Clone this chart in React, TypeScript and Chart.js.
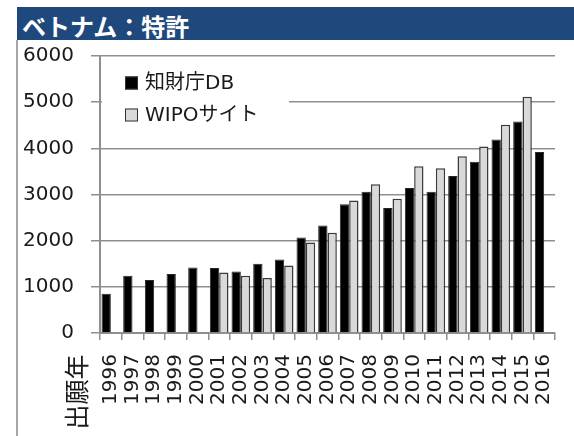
import React, { useEffect, useRef } from "react";
import { Chart, registerables } from "chart.js";

Chart.register(...registerables);

const titleText = "ベトナム：特許";
const axisTitle = "出願年";
const seriesLabels = ["知財庁DB", "WIPOサイト"];
const years = [
  "1996", "1997", "1998", "1999", "2000", "2001", "2002", "2003", "2004", "2005", "2006",
  "2007", "2008", "2009", "2010", "2011", "2012", "2013", "2014", "2015", "2016",
];
const jpoValues = [
  850, 1240, 1150, 1280, 1420, 1410, 1330, 1500, 1590, 2070, 2330,
  2790, 3060, 2710, 3140, 3060, 3400, 3710, 4190, 4580, 3920,
];
const wipoValues = [
  null, null, null, null, null, 1310, 1240, 1190, 1460, 1960, 2170,
  2870, 3220, 2910, 3610, 3570, 3830, 4040, 4510, 5120, null,
];
const yMin = 0;
const yMax = 6000;
const yStep = 1000;

const FONT = "'DejaVu Sans', 'Noto Sans CJK JP', sans-serif";
const CJK_FONT = "'Noto Sans CJK JP', 'DejaVu Sans', sans-serif";
const GRID = "#8f8f8f";

const insideLegend = {
  id: "insideLegend",
  beforeDatasetsDraw(chart: any) {
    const ctx = chart.ctx;
    const area = chart.chartArea;
    ctx.save();
    ctx.fillStyle = "#ffffff";
    ctx.fillRect(area.left + 2, area.top + 8, 187, 76);
    const rows = [area.top + 27, area.top + 59];
    chart.data.datasets.forEach((ds: any, i: number) => {
      const cy = rows[i];
      const size = 13;
      const x = area.left + 25;
      ctx.fillStyle = ds.backgroundColor;
      ctx.fillRect(x, cy - size / 2, size, size);
      ctx.strokeStyle = "#333333";
      ctx.lineWidth = 1;
      ctx.strokeRect(x + 0.5, cy - size / 2 + 0.5, size - 1, size - 1);
      ctx.fillStyle = "#1a1a1a";
      ctx.font = `20px ${FONT}`;
      ctx.textAlign = "left";
      ctx.textBaseline = "middle";
      ctx.fillText(ds.label, x + size + 7, cy + 1);
    });
    ctx.restore();
  },
  afterDraw(chart: any) {
    const ctx = chart.ctx;
    ctx.save();
    ctx.translate(76, chart.chartArea.bottom + 59);
    ctx.rotate(-Math.PI / 2);
    ctx.fillStyle = "#1a1a1a";
    ctx.font = `25px ${CJK_FONT}`;
    ctx.textAlign = "center";
    ctx.textBaseline = "middle";
    ctx.fillText(axisTitle, 0, 0);
    ctx.restore();
  },
};

export default function App() {
  const canvasRef = useRef<HTMLCanvasElement | null>(null);

  useEffect(() => {
    document.body.style.margin = "0";
    const canvas = canvasRef.current;
    if (!canvas) return;
    const chart = new Chart(canvas, {
      type: "bar",
      data: {
        labels: years,
        datasets: [
          {
            label: seriesLabels[0],
            data: jpoValues,
            backgroundColor: "#000000",
            borderColor: "#262626",
            borderWidth: 1,
          },
          {
            label: seriesLabels[1],
            data: wipoValues as any,
            backgroundColor: "#d9d9d9",
            borderColor: "#3a3a3a",
            borderWidth: 1.5,
          },
        ],
      },
      options: {
        animation: false,
        responsive: false,
        maintainAspectRatio: false,
        devicePixelRatio: 1,
        layout: { padding: { top: 16, right: 19, left: 0, bottom: 0 } },
        datasets: {
          bar: { categoryPercentage: 0.86, barPercentage: 1 },
        },
        plugins: {
          legend: { display: false },
          tooltip: { enabled: false },
          title: { display: false },
        },
        scales: {
          x: {
            grid: {
              display: true,
              drawOnChartArea: false,
              drawTicks: true,
              tickLength: 7,
              color: GRID,
              lineWidth: 1.5,
              offset: true,
            },
            border: { display: true, color: GRID, width: 2 },
            ticks: {
              autoSkip: false,
              minRotation: 90,
              maxRotation: 90,
              padding: 14,
              color: "#1a1a1a",
              font: { family: FONT, size: 20 },
            },
            afterFit: (s: any) => {
              s.height = 103;
              s.paddingLeft = 0;
              s.paddingRight = 0;
              s.paddingTop = 0;
              s.paddingBottom = 0;
            },
          },
          y: {
            min: yMin,
            max: yMax,
            ticks: {
              stepSize: yStep,
              padding: 17,
              color: "#1a1a1a",
              font: { family: FONT, size: 20 },
              callback: (v: any) => String(v),
            },
            grid: {
              color: GRID,
              lineWidth: 1.5,
              tickLength: 9,
              drawTicks: true,
            },
            border: { display: true, color: GRID, width: 2 },
            afterFit: (s: any) => {
              s.width = 100;
              s.paddingLeft = 0;
              s.paddingRight = 0;
              s.paddingTop = 0;
              s.paddingBottom = 0;
            },
          },
        },
      },
      plugins: [insideLegend],
    });
    return () => chart.destroy();
  }, []);

  return (
    <div style={{ position: "absolute", left: 0, top: 0, width: 574, height: 436, background: "#ffffff", overflow: "hidden" }}>
      <div
        style={{
          position: "absolute",
          left: 17,
          top: 7,
          width: 557,
          height: 33,
          background: "#1f497d",
        }}
      >
        <span
          style={{
            position: "absolute",
            left: 5,
            top: 5,
            color: "#ffffff",
            fontFamily: CJK_FONT,
            fontWeight: 700,
            fontSize: 24,
            lineHeight: "28px",
            whiteSpace: "nowrap",
          }}
        >
          {titleText}
        </span>
      </div>
      <div style={{ position: "absolute", left: 16, top: 40, width: 2, height: 396, background: "#a6a6a6" }} />
      <canvas
        ref={canvasRef}
        width={574}
        height={396}
        style={{ position: "absolute", left: 0, top: 40, width: 574, height: 396 }}
      />
    </div>
  );
}
